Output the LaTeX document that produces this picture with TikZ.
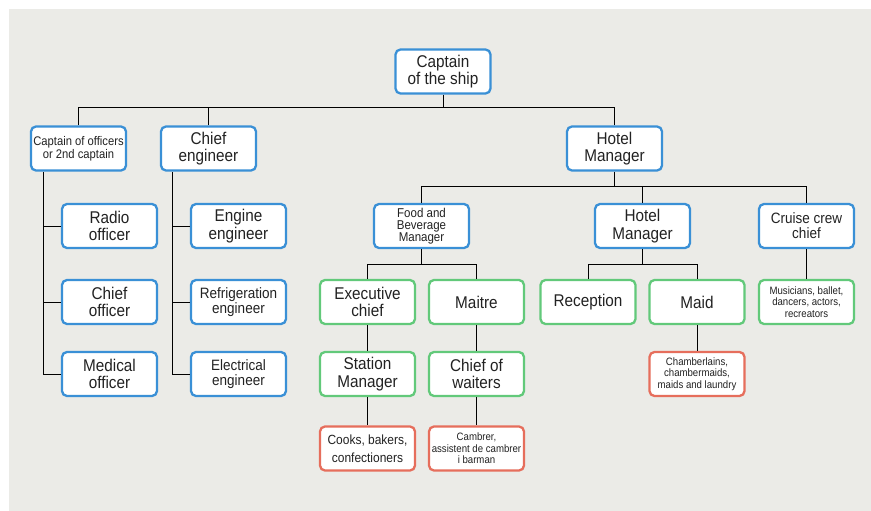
\documentclass[tikz,border=0pt]{standalone}
\usepackage{fontspec}
\setmainfont{Liberation Sans}[FakeStretch=0.9]
\definecolor{bgcol}{RGB}{235,235,231}
\definecolor{boxblue}{RGB}{58,144,214}
\definecolor{boxgreen}{RGB}{98,201,122}
\definecolor{boxred}{RGB}{230,110,92}
\definecolor{txt}{RGB}{34,34,34}

\tikzset{
 box/.style={draw,rounded corners=5pt,line width=2.3pt,fill=white,text=txt,
  minimum width=95pt,minimum height=44pt,align=center,inner sep=1pt},
 topbox/.style={box,draw=boxblue},
 midbox/.style={box,draw=boxgreen},
 lowbox/.style={box,draw=boxred},
 link/.style={line width=1pt,black},
 big/.style={font=\fontsize{17}{17.5}\selectfont},
 med/.style={font=\fontsize{15}{15}\selectfont},
 cooksize/.style={font=\fontsize{13.3}{17.5}\selectfont},
 mgr/.style={font=\fontsize{12.8}{12.3}\selectfont},
 cpt/.style={font=\fontsize{12.5}{12.7}\selectfont},
 tiny/.style={font=\fontsize{10.7}{11.5}\selectfont}
}

\begin{document}
\begin{tikzpicture}[x=1pt,y=-1pt]
\useasboundingbox (0,0) rectangle (871,511);
\fill[bgcol] (9,9) rectangle (871,511);

% top
\node[topbox,big] (cap) at (443,71.5) {Captain\\of the ship};
\node[topbox,cpt] (off) at (78.5,148.5) {Captain of officers\\or 2nd captain};
\node[topbox,big] (eng) at (208.5,148.5) {Chief\\engineer};
\node[topbox,big] (hotel) at (614.5,148.5) {Hotel\\Manager};

% officers
\node[topbox,big] (radio) at (109.5,226) {Radio\\officer};
\node[topbox,big] (chiefoff) at (109.5,302) {Chief\\officer};
\node[topbox,big] (medical) at (109.5,374) {Medical\\officer};

% engineers
\node[topbox,big] (engine) at (238.5,226) {Engine\\engineer};
\node[topbox,med] (refrig) at (238.5,302) {Refrigeration\\engineer};
\node[topbox,med] (elec) at (238.5,374) {Electrical\\engineer};

% hotel
\node[topbox,mgr] (food) at (421.5,226) {Food and\\Beverage\\Manager};
\node[topbox,big] (hm) at (642.5,226) {Hotel\\Manager};
\node[topbox,med] (cruise) at (806.5,226) {Cruise crew\\chief};

\node[midbox,big] (exec) at (367.5,302) {Executive\\chief};
\node[midbox,big] (maitre) at (476.5,302) {Maitre};
\node[midbox,big] (recep) at (588,302) {Reception};
\node[midbox,big] (maid) at (697,302) {Maid};
\node[midbox,tiny] (music) at (806.5,302) {Musicians, ballet,\\dancers, actors,\\recreators};

\node[midbox,big] (station) at (367.5,374) {Station\\Manager};
\node[midbox,big] (waiters) at (476.5,374) {Chief of\\waiters};
\node[lowbox,tiny] (chamber) at (697,374) {Chamberlains,\\chambermaids,\\maids and laundry};

\node[lowbox,cooksize] (cooks) at (367.5,448.5) {Cooks, bakers,\\confectioners};
\node[lowbox,tiny] (cambrer) at (476.5,448.5) {Cambrer,\\assistent de cambrer\\i barman};

% connectors
\coordinate (topbus) at (443,108);
\coordinate (hotelbus) at (614.5,186);
\coordinate (foodbus) at (421.5,264);
\coordinate (hmbus) at (642.5,264);
\coordinate (offbus) at (43,172);
\coordinate (engbus) at (172,172);

\draw[link] (cap) -- (topbus);
\foreach \n in {off,eng,hotel}
 \draw[link] (\n.north) |- (topbus);
\draw[link] (hotel) -- (hotelbus);
\foreach \n in {food,hm,cruise}
 \draw[link] (\n.north) |- (hotelbus);
\draw[link] (food) -- (foodbus);
\foreach \n in {exec,maitre}
 \draw[link] (\n.north) |- (foodbus);
\draw[link] (hm) -- (hmbus);
\foreach \n in {recep,maid}
 \draw[link] (\n.north) |- (hmbus);
\draw[link] (offbus) |- (medical.west);
\foreach \n in {radio,chiefoff}
 \draw[link] (offbus |- \n.west) -- (\n.west);
\draw[link] (engbus) |- (elec.west);
\foreach \n in {engine,refrig}
 \draw[link] (engbus |- \n.west) -- (\n.west);
\draw[link] (cruise) -- (music);
\draw[link] (exec) -- (station);
\draw[link] (station) -- (cooks);
\draw[link] (maitre) -- (waiters);
\draw[link] (waiters) -- (cambrer);
\draw[link] (maid) -- (chamber);
\end{tikzpicture}
\end{document}
